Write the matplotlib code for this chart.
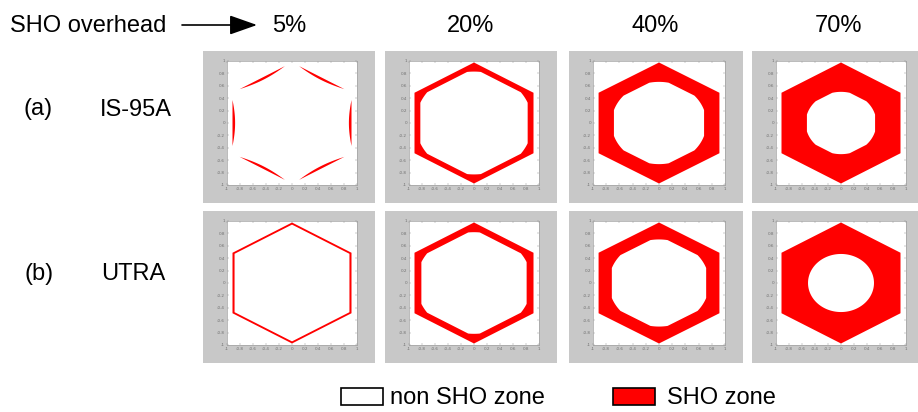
"""SHO zone maps for IS-95A and UTRA at four SHO overhead levels."""

import numpy as np
import matplotlib.pyplot as plt
from matplotlib.path import Path
from matplotlib.patches import PathPatch, Rectangle, FancyArrowPatch

W, H = 918, 412
FONT = "Liberation Sans"
RED = "#ff0000"
GRAY = "#c8c8c8"

overheads = ["5%", "20%", "40%", "70%"]
row_tags = ["(a)", "(b)"]
systems = ["IS-95A", "UTRA"]

# inner edge of the SHO ring (cell radius = 1):
#   band   - ring width along the cell edges
#   circle - radius that rounds off the inner corners
#   lens   - extra width at the middle of each edge, and the share of the edge it covers
is95_band = [0.0, 0.085, 0.22, 0.37]
is95_circle = [9.0, 0.85, 0.68, 0.515]
is95_lens = [0.038, 0.0, 0.0, 0.0]
is95_lens_span = [0.76, 1.0, 1.0, 1.0]
utra_band = [0.03, 0.10, 0.19, 0.0]
utra_circle = [9.0, 0.84, 0.72, 0.48]
utra_lens = [0.0, 0.0, 0.0, 0.0]
utra_lens_span = [1.0, 1.0, 1.0, 1.0]

xtick_labels = ["-1", "-0.8", "-0.6", "-0.4", "-0.2", "0", "0.2", "0.4", "0.6", "0.8", "1"]
ytick_labels = ["-1", "-0.8", "-0.6", "-0.4", "-0.2", "0", "0.2", "0.4", "0.6", "0.8", "1"]

legend_labels = ["non SHO zone", "SHO zone"]

APOTHEM = np.cos(np.pi / 6)


def ring_patch(band, circle, lens, span):
    th = np.linspace(0, 2 * np.pi, 721)
    phi = np.mod(th + np.pi / 6, np.pi / 3) - np.pi / 6
    r_out = APOTHEM / np.cos(phi)  # pointy-top hexagon
    s = np.tan(phi) / np.tan(np.pi / 6)  # position along the edge, -1..1
    width = band + lens * np.clip(1 - (s / span) ** 2, 0, None)
    r_in = np.minimum(r_out * (APOTHEM - width) / APOTHEM, circle)
    outer = np.column_stack([r_out * np.cos(th), r_out * np.sin(th)])
    inner = np.column_stack([r_in * np.cos(th), r_in * np.sin(th)])[::-1]
    n = len(th)
    codes = ([Path.MOVETO] + [Path.LINETO] * (n - 1)) * 2
    path = Path(np.vstack([outer, inner]), codes)
    return PathPatch(path, facecolor=RED, edgecolor="none")


def fig_rect(x0, y0, w, h):
    return [x0 / W, 1 - (y0 + h) / H, w / W, h / H]


fig = plt.figure(figsize=(W / 100, H / 100), dpi=100)

col_left = [203, 385, 569, 752]
col_w = [172, 172, 174, 172]
row_top = [51, 211]
panel_h = 152
params = {
    "IS-95A": (is95_band, is95_circle, is95_lens, is95_lens_span),
    "UTRA": (utra_band, utra_circle, utra_lens, utra_lens_span),
}

xlim = 0.946
ylim = 1.025
for i, system in enumerate(systems):
    bands, circles, lenses, spans = params[system]
    for j in range(len(overheads)):
        x0, y0, w = col_left[j], row_top[i], col_w[j]
        fig.add_artist(Rectangle((x0 / W, 1 - (y0 + panel_h) / H), w / W, panel_h / H,
                                 transform=fig.transFigure, facecolor=GRAY,
                                 edgecolor="none", zorder=0))
        ax = fig.add_axes(fig_rect(x0 + 24, y0 + 10, w - 42, panel_h - 28))
        ax.add_patch(ring_patch(bands[j], circles[j], lenses[j], spans[j]))
        ax.set_xlim(-xlim, xlim)
        ax.set_ylim(-ylim, ylim)
        ax.set_xticks(np.linspace(-xlim, xlim, len(xtick_labels)))
        ax.set_xticklabels(xtick_labels)
        ax.set_yticks(np.linspace(-ylim, ylim, len(ytick_labels)))
        ax.set_yticklabels(ytick_labels)
        ax.tick_params(direction="in", length=1.5, width=0.3, color="#888888",
                       labelsize=3, labelcolor="#707070", pad=1.5, top=True, right=True)
        for s in ax.spines.values():
            s.set_color("#a0a0a0")
            s.set_linewidth(0.5)

# header
fig.text(10 / W, 1 - 32 / H, "SHO overhead", fontsize=17, family=FONT, va="baseline")
fig.add_artist(FancyArrowPatch((182 / W, 1 - 25 / H), (257 / W, 1 - 25 / H),
                               transform=fig.transFigure, shrinkA=0, shrinkB=0,
                               arrowstyle="-|>,head_length=1.7,head_width=0.6",
                               mutation_scale=10, lw=1.2, color="black"))
for j, label in enumerate(overheads):
    cx = col_left[j] + 86
    fig.text(cx / W, 1 - 32 / H, label, fontsize=17, family=FONT, ha="center", va="baseline")

tag_x = [38, 39]
sys_x = [135.5, 133.5]
label_base = [115.5, 280]
for i in range(len(systems)):
    fig.text(tag_x[i] / W, 1 - label_base[i] / H, row_tags[i], fontsize=17, family=FONT,
             ha="center", va="baseline")
    fig.text(sys_x[i] / W, 1 - label_base[i] / H, systems[i], fontsize=17, family=FONT,
             ha="center", va="baseline")

# legend
box_x = [341, 613]
text_x = [390, 667]
box_colors = ["white", RED]
for k in range(len(legend_labels)):
    fig.add_artist(Rectangle((box_x[k] / W, 1 - 405 / H), 42 / W, 17 / H,
                             transform=fig.transFigure, facecolor=box_colors[k],
                             edgecolor="black", lw=1.2))
    fig.text(text_x[k] / W, 1 - 404.5 / H, legend_labels[k], fontsize=17, family=FONT,
             va="baseline")

fig.savefig("out.png", dpi=100)
